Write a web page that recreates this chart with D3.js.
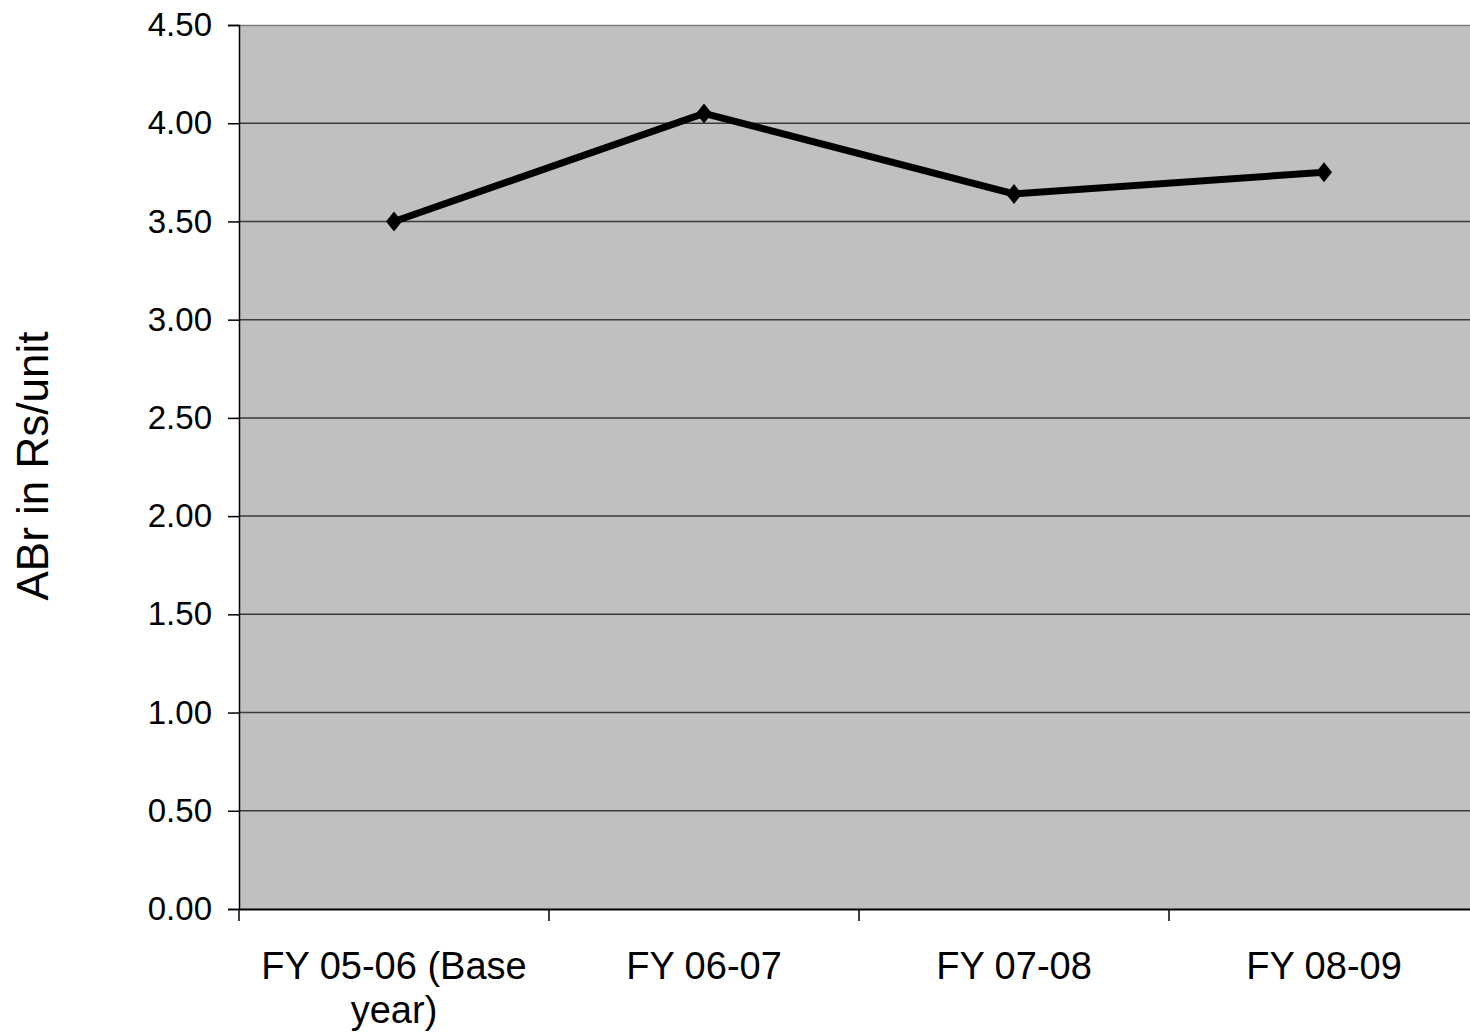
<!DOCTYPE html>
<html>
<head>
<meta charset="utf-8">
<script src="https://cdn.jsdelivr.net/npm/d3@7"></script>
<style>
  body { margin: 0; background: #fff; }
  svg { display: block; font-family: "Liberation Sans", Arial, sans-serif; }
</style>
</head>
<body>
<div id="chart"></div>
<script>
// data
var categories = ["FY 05-06 (Base year)", "FY 06-07", "FY 07-08", "FY 08-09"];
var abrValues = [3.50, 4.05, 3.64, 3.75];
var yTicks = [0, 0.5, 1, 1.5, 2, 2.5, 3, 3.5, 4, 4.5];

var W = 1470, H = 1034;
var margin = { top: 25, right: -9, bottom: 125, left: 239 },
    width = W - margin.left - margin.right,
    height = H - margin.top - margin.bottom;

var svg = d3.select("#chart")
  .append("svg")
  .attr("width", W)
  .attr("height", H)
  .append("g")
  .attr("transform", "translate(" + margin.left + "," + margin.top + ")");

var x = d3.scaleBand()
  .domain(categories)
  .range([0, width]);

var y = d3.scaleLinear()
  .domain([0, 4.5])
  .range([height, 0]);

// plot background
svg.append("rect")
  .attr("x", 0)
  .attr("y", 0)
  .attr("width", width)
  .attr("height", height)
  .attr("fill", "#c0c0c0");

// top border
svg.append("line")
  .attr("x1", 0).attr("x2", width)
  .attr("y1", 0.5).attr("y2", 0.5)
  .attr("stroke", "#808080")
  .attr("stroke-width", 1.5);

// gridlines
svg.selectAll(".grid")
  .data(yTicks.filter(function(d) { return d > 0 && d < 4.5; }))
  .enter()
  .append("line")
  .attr("class", "grid")
  .attr("x1", 0).attr("x2", width)
  .attr("y1", function(d) { return y(d); })
  .attr("y2", function(d) { return y(d); })
  .attr("stroke", "#3a3a3a")
  .attr("stroke-width", 1.5);

// Y axis
var yAxis = svg.append("g")
  .call(d3.axisLeft(y).tickValues(yTicks).tickFormat(d3.format(".2f")).tickSize(11).tickPadding(16));
yAxis.select(".domain").attr("stroke", "#000").attr("stroke-width", 1.5);
yAxis.selectAll(".tick line").attr("stroke", "#000").attr("stroke-width", 1.5);
yAxis.selectAll("text")
  .attr("fill", "#000")
  .style("font-size", "33px")
  .style("font-family", "Liberation Sans, Arial, sans-serif");

// X axis
var xAxis = svg.append("g")
  .attr("transform", "translate(0," + height + ")")
  .call(d3.axisBottom(x).tickSize(0).tickFormat(""));
xAxis.select(".domain").attr("stroke", "#000").attr("stroke-width", 2);

// tick marks on category boundaries
svg.selectAll(".xtick")
  .data(d3.range(categories.length + 1))
  .enter()
  .append("line")
  .attr("class", "xtick")
  .attr("x1", function(i) { return i * x.step(); })
  .attr("x2", function(i) { return i * x.step(); })
  .attr("y1", height)
  .attr("y2", height + 12)
  .attr("stroke", "#000")
  .attr("stroke-width", 1.5);

// category labels (wrapped like the original)
var labelLines = [["FY 05-06 (Base", "year)"], ["FY 06-07"], ["FY 07-08"], ["FY 08-09"]];
svg.selectAll(".xlabel")
  .data(categories)
  .enter()
  .append("text")
  .attr("class", "xlabel")
  .attr("text-anchor", "middle")
  .attr("x", function(d) { return x(d) + x.bandwidth() / 2; })
  .attr("y", height + 70)
  .style("font-size", "38px")
  .each(function(d, i) {
    var t = d3.select(this);
    labelLines[i].forEach(function(s, j) {
      t.append("tspan")
        .attr("x", x(d) + x.bandwidth() / 2)
        .attr("dy", j === 0 ? 0 : 44)
        .text(s);
    });
  });

// Y axis title
svg.append("text")
  .attr("transform", "translate(" + (-239 + 48) + "," + (466 - margin.top) + ") rotate(-90)")
  .attr("text-anchor", "middle")
  .style("font-size", "44px")
  .text("ABr in Rs/unit");

// line
var line = d3.line()
  .x(function(d, i) { return x(categories[i]) + x.bandwidth() / 2; })
  .y(function(d) { return y(d); });

svg.append("path")
  .datum(abrValues)
  .attr("d", line)
  .attr("fill", "none")
  .attr("stroke", "#000")
  .attr("stroke-width", 7)
  .attr("stroke-linejoin", "miter");

// diamond markers
svg.selectAll(".marker")
  .data(abrValues)
  .enter()
  .append("path")
  .attr("class", "marker")
  .attr("transform", function(d, i) {
    return "translate(" + (x(categories[i]) + x.bandwidth() / 2) + "," + y(d) + ")";
  })
  .attr("d", "M0,-10L8,0L0,10L-8,0Z")
  .attr("fill", "#000");
</script>
</body>
</html>
